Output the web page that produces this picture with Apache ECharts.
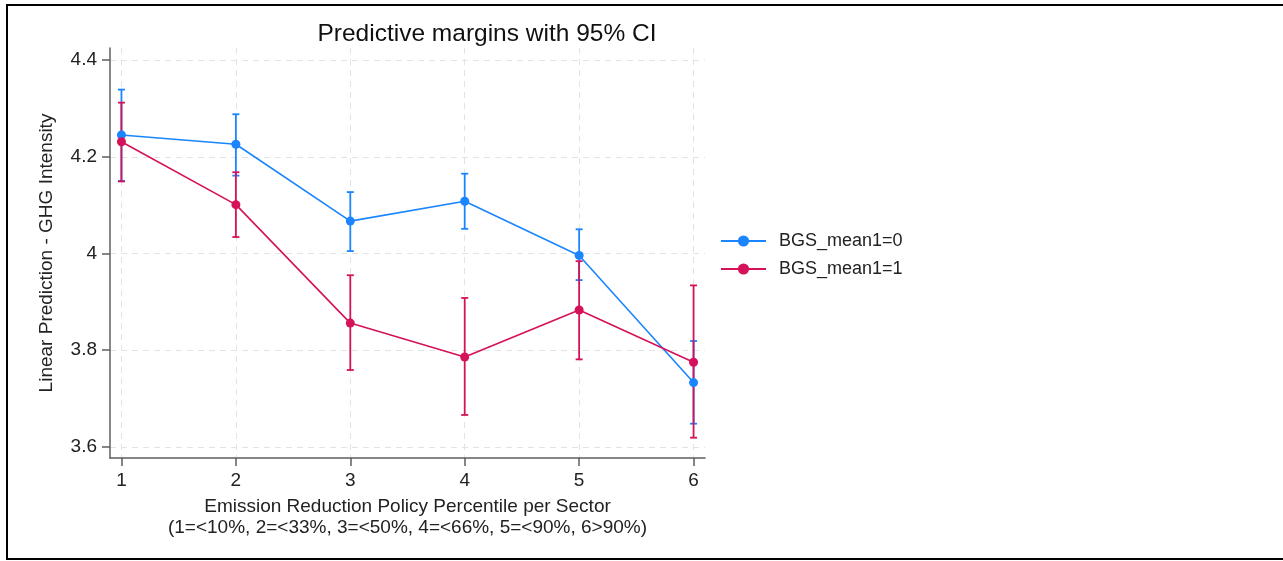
<!DOCTYPE html>
<html>
<head>
<meta charset="utf-8">
<script src="https://cdn.jsdelivr.net/npm/echarts@6/dist/echarts.min.js"></script>
<style>
  html, body { margin: 0; padding: 0; background: #fff; }
  #chart-container { width: 1283px; height: 561px; }
</style>
</head>
<body>
<div id="chart-container"></div>
<script>
// policy percentile groups on the x axis
var groups = [1, 2, 3, 4, 5, 6];
var yTicks = [3.6, 3.8, 4, 4.2, 4.4];

// BGS_mean1=0
var mean0 = [4.245, 4.226, 4.067, 4.108, 3.996, 3.733];
var lo0 = [4.150, 4.161, 4.005, 4.051, 3.945, 3.648];
var hi0 = [4.339, 4.288, 4.127, 4.165, 4.050, 3.819];

// BGS_mean1=1
var mean1 = [4.231, 4.101, 3.856, 3.786, 3.883, 3.775];
var lo1 = [4.149, 4.034, 3.759, 3.666, 3.781, 3.619];
var hi1 = [4.312, 4.168, 3.955, 3.908, 3.984, 3.934];

var blue = '#1A85FF';
var red = '#D41159';
var font = 'Liberation Sans, Arial, sans-serif';

var dom = document.getElementById('chart-container');
var myChart = echarts.init(dom, null, { renderer: 'canvas' });

function pairs(xs, ys) {
  return xs.map(function (x, i) { return [x, ys[i]]; });
}

function ciData(lo, hi) {
  return groups.map(function (x, i) { return [x, lo[i], hi[i]]; });
}

function ciSeries(name, lo, hi, color) {
  return {
    name: name,
    type: 'custom',
    data: ciData(lo, hi),
    z: 2,
    renderItem: function (params, api) {
      var top = api.coord([api.value(0), api.value(2)]);
      var bot = api.coord([api.value(0), api.value(1)]);
      var w = 3.5;
      var st = { stroke: color, lineWidth: 1.8 };
      return {
        type: 'group',
        children: [
          { type: 'line', shape: { x1: top[0], y1: top[1], x2: bot[0], y2: bot[1] }, style: st },
          { type: 'line', shape: { x1: top[0] - w, y1: top[1], x2: top[0] + w, y2: top[1] }, style: st },
          { type: 'line', shape: { x1: bot[0] - w, y1: bot[1], x2: bot[0] + w, y2: bot[1] }, style: st }
        ]
      };
    }
  };
}

function lineSeries(name, vals, color) {
  return {
    name: name,
    type: 'line',
    data: pairs(groups, vals),
    symbol: 'circle',
    symbolSize: 9,
    z: 3,
    itemStyle: { color: color },
    lineStyle: { color: color, width: 1.6 },
    emphasis: { disabled: true }
  };
}

var gridDash = { color: '#e3e3e3', width: 1, type: [6, 5] };
var axisCol = '#5f5f5f';

var option = {
  animation: false,
  textStyle: { fontFamily: font },
  title: {
    text: 'Predictive margins with 95% CI',
    left: 482,
    top: 17,
    textAlign: 'center',
    textStyle: { fontFamily: font, fontSize: 24.5, fontWeight: 'normal', color: '#111' }
  },
  graphic: [
    {
      type: 'rect',
      shape: { x: 7, y: 5, width: 1300, height: 554 },
      style: { fill: 'none', stroke: '#000', lineWidth: 2 },
      silent: true
    }
  ],
  legend: {
    orient: 'vertical',
    left: 715,
    top: 227,
    itemWidth: 45,
    itemHeight: 14,
    itemGap: 10,
    data: ['BGS_mean1=0', 'BGS_mean1=1'],
    textStyle: { fontFamily: font, fontSize: 18, color: '#222', padding: [0, 0, 0, 8] }
  },
  grid: { left: 110, top: 48, width: 595, height: 410 },
  xAxis: {
    type: 'value',
    min: 0.9,
    max: 6.1,
    name: 'Emission Reduction Policy Percentile per Sector\n(1=<10%, 2=<33%, 3=<50%, 4=<66%, 5=<90%, 6>90%)',
    nameLocation: 'middle',
    nameGap: 38,
    nameTextStyle: { fontFamily: font, fontSize: 19, color: '#222', lineHeight: 21 },
    axisLine: { lineStyle: { color: axisCol, width: 1.5 } },
    axisTick: { length: 8, lineStyle: { color: axisCol, width: 1.5 }, customValues: groups },
    axisLabel: { fontSize: 19, color: '#222', margin: 13, customValues: groups },
    splitLine: { show: true, lineStyle: gridDash }
  },
  yAxis: {
    type: 'value',
    min: 3.577,
    max: 4.425,
    name: 'Linear Prediction - GHG Intensity',
    nameLocation: 'middle',
    nameRotate: 90,
    nameGap: 54,
    nameTextStyle: { fontFamily: font, fontSize: 19, color: '#222' },
    axisLine: { show: true, lineStyle: { color: axisCol, width: 1.5 } },
    axisTick: { show: true, length: 8, lineStyle: { color: axisCol, width: 1.5 }, customValues: yTicks },
    axisLabel: { fontSize: 19, color: '#222', margin: 13, customValues: yTicks },
    splitLine: { show: true, lineStyle: gridDash }
  },
  series: [
    ciSeries('ci0', lo0, hi0, blue),
    ciSeries('ci1', lo1, hi1, red),
    lineSeries('BGS_mean1=0', mean0, blue),
    lineSeries('BGS_mean1=1', mean1, red)
  ]
};

if (option && typeof option === 'object') {
  myChart.setOption(option);
}

window.addEventListener('resize', myChart.resize);
</script>
</body>
</html>
